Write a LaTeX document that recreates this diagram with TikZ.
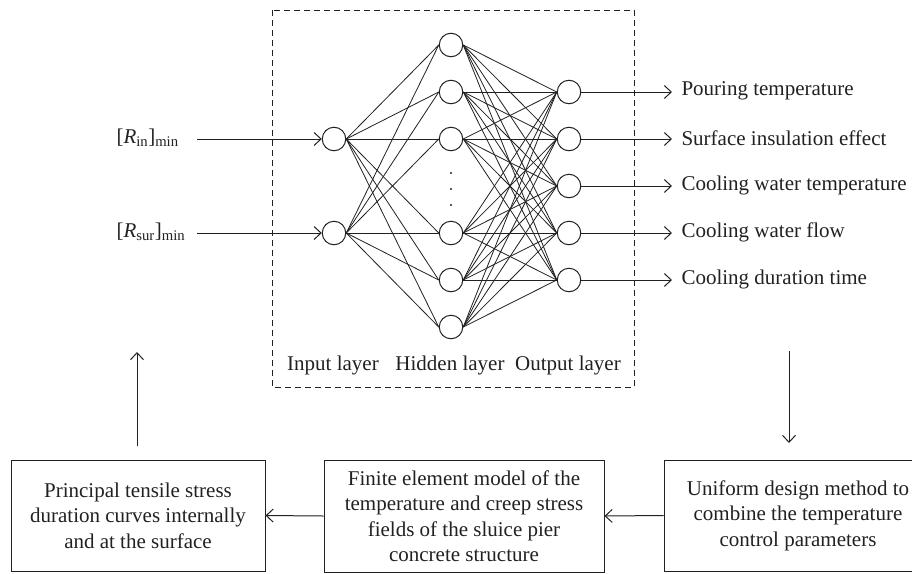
\documentclass[tikz,border=0pt]{standalone}
\usepackage{fontspec}
\setmainfont{Liberation Serif}
\usetikzlibrary{arrows.meta}
\definecolor{ink}{gray}{0.13}
\begin{document}
\begin{tikzpicture}[x=1pt,y=-1pt,
  every node/.style={font=\fontsize{21}{25.5}\selectfont, text=ink},
  neuron/.style={circle,draw=ink,line width=1pt,minimum size=23.5pt,inner sep=0pt},
  conn/.style={draw=ink,line width=0.8pt},
  arr/.style={draw=ink,line width=1pt,-{Straight Barb[length=7pt,width=13pt]}},
  procbox/.style={draw=ink,line width=1pt,align=center,inner sep=0pt}]
\useasboundingbox (0,0) rectangle (912,573);

% dashed frame
\draw[ink,line width=1pt,dash pattern=on 6pt off 4pt] (272,10) rectangle (634,387);

% neurons
\node[neuron] (i1) at (334,139) {};
\node[neuron] (i2) at (334,233) {};
\foreach \k/\y in {1/45,2/92,3/139,4/233,5/280,6/327}
  \node[neuron] (h\k) at (451,\y) {};
\foreach \k/\y in {1/92,2/139,3/186,4/233,5/280}
  \node[neuron] (o\k) at (569,\y) {};

% dots
\foreach \y in {173,189,205} \fill[ink] (451,\y) circle (1.1pt);

% connections
\foreach \a in {1,2}
  \foreach \b in {1,...,6}
    \draw[conn] (i\a.east) -- (h\b.west);
\foreach \a in {1,...,6}
  \foreach \b in {1,...,5}
    \draw[conn] (h\a.east) -- (o\b.west);

% layer labels
\node (li) at (333,365) {Input layer};
\node (lh) at (450,365) {Hidden layer};
\node (lo) at (568,365) {Output layer};

% inputs
\coordinate (a1) at (197,139);
\coordinate (a2) at (197,233);
\node[anchor=west] (t1) at (113,138) {[\textit{R}\textsubscript{in}]\textsubscript{min}};
\node[anchor=west] (t2) at (113,232) {[\textit{R}\textsubscript{sur}]\textsubscript{min}};
\draw[arr] (a1) -- (i1);
\draw[arr] (a2) -- (i2);

% outputs
\foreach \k/\y/\t in {1/92/Pouring temperature,2/139/Surface insulation effect,3/186/Cooling water temperature,4/233/Cooling water flow,5/280/Cooling duration time}{
  \coordinate (e\k) at (672,\y);
  \draw[arr] (o\k) -- (e\k);
  \node[anchor=west] (ol\k) at (678,\y-1) {\t};
}

% bottom boxes
\node[procbox,minimum width=254pt,minimum height=111pt] (b1) at (138,515.5)
  {Principal tensile stress\\duration curves internally\\and at the surface};
\node[procbox,minimum width=280pt,minimum height=112pt] (b2) at (464,516)
  {Finite element model of the\\temperature and creep stress\\fields of the sluice pier\\concrete structure};
\node[procbox,minimum width=268pt,minimum height=111pt] (b3) at (798,515.5)
  {Uniform design method to\\combine the temperature\\control parameters};

\draw[arr] (b3.west) -- (b2.east);
\draw[arr] (b2.west) -- (b1.east);

% vertical arrows
\coordinate (d1) at (789,351);
\coordinate (d2) at (789,443);
\draw[arr] (d1) -- (d2);
\coordinate (u1) at (137,446);
\coordinate (u2) at (137,352);
\draw[arr] (u1) -- (u2);
\end{tikzpicture}
\end{document}
